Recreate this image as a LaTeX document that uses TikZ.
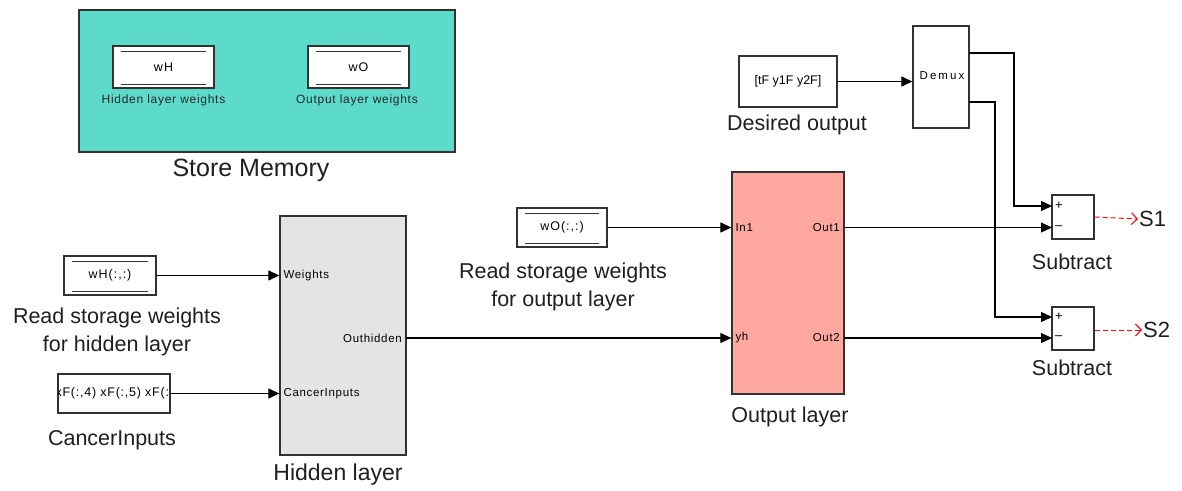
\documentclass[tikz,border=0pt]{standalone}
\usepackage{fontspec}
\setmainfont{Liberation Sans}
\newfontfamily\portfont[LetterSpace=6]{Liberation Sans}
\newfontfamily\dsrfont[LetterSpace=8]{Liberation Sans}
\newfontfamily\demuxfont[LetterSpace=18]{Liberation Sans}
\newfontfamily\canfont[LetterSpace=6]{Liberation Sans}
\usetikzlibrary{arrows.meta}
\definecolor{storeteal}{RGB}{92,219,203}
\definecolor{hidgray}{RGB}{228,228,228}
\definecolor{outsalmon}{RGB}{255,168,160}
\definecolor{bordergray}{RGB}{50,50,50}
\tikzset{
  blk/.style={draw=bordergray, line width=1.3pt, fill=white, inner sep=0pt},
  dsr/.style={blk, font=\dsrfont\fontsize{12.5}{14}\selectfont, path picture={
      \draw[line width=1pt,bordergray] ([xshift=8pt,yshift=-5pt]path picture bounding box.north west) -- ([xshift=-8pt,yshift=-5pt]path picture bounding box.north east);
      \draw[line width=1pt,bordergray] ([xshift=8pt,yshift=4pt]path picture bounding box.south west) -- ([xshift=-8pt,yshift=4pt]path picture bounding box.south east);}},
  big/.style={font=\fontsize{21.5}{28}\selectfont, align=center, inner sep=0pt, text=black!88},
  small/.style={font=\portfont\fontsize{12}{14}\selectfont, inner sep=0pt, text=black!85},
  port/.style={font=\portfont\fontsize{11.5}{13}\selectfont, inner sep=0pt},
  arr/.style={line width=1.1pt, -{Triangle[length=11pt,width=10pt]}},
  redarr/.style={red, line width=1pt, dash pattern=on 5pt off 3pt, -{Straight Barb[length=6pt,width=12pt]}}
}
\begin{document}
\begin{tikzpicture}[x=1pt,y=-1pt]
\useasboundingbox (0,0) rectangle (1182,490);
% Store memory
\node[blk, fill=storeteal, minimum width=376pt, minimum height=142pt] (store) at (267,81) {};
\node[dsr, minimum width=101pt, minimum height=42pt] (wH) at (163.5,67) {wH};
\node[dsr, minimum width=101pt, minimum height=42pt] (wO) at (358.5,67) {wO};
\node[small] (wHl) at (163.5,100) {Hidden layer weights};
\node[small] (wOl) at (357,100) {Output layer weights};
\node[big, font=\fontsize{25}{30}\selectfont] (storel) at (251,170) {Store Memory};
% Hidden side
\node[dsr, minimum width=92pt, minimum height=39pt] (wHr) at (110,275.5) {wH(:,:)};
\node[big] (wHrl) at (117,332) {Read storage weights\\for hidden layer};
\node[blk, minimum width=112pt, minimum height=39pt] (can) at (114,393.5) {};
\begin{scope}
\clip (can.south west) rectangle (can.north east);
\node[inner sep=0pt, anchor=west, font=\canfont\fontsize{12.5}{14}\selectfont] (cantext) at ([xshift=-2pt]can.west) {xF(:,4) xF(:,5) xF(:,6)};
\end{scope}
\draw[draw=bordergray, line width=1.3pt] (can.south west) rectangle (can.north east);
\node[big] (canl) at (112,440) {CancerInputs};
\node[blk, fill=hidgray, minimum width=126pt, minimum height=239pt] (hid) at (343,335.5) {};
\node[port, anchor=west] (pW) at ([xshift=4pt]hid.west |- wHr) {Weights};
\node[port, anchor=west] (pC) at ([xshift=4pt]hid.west |- can) {CancerInputs};
\coordinate (ho) at (406,338);
\node[port, anchor=east] (pO) at ([xshift=-4pt]ho) {Outhidden};
\node[big, font=\fontsize{23}{28}\selectfont] (hidl) at (338,475) {Hidden layer};
% Output side
\node[dsr, minimum width=90pt, minimum height=39pt] (wOr) at (562,227.5) {wO(:,:)};
\node[big] (wOrl) at (563,286.5) {Read storage weights\\for output layer};
\node[blk, fill=outsalmon, minimum width=112pt, minimum height=222pt] (out) at (788,283) {};
\coordinate (o1) at (844,227.5);
\coordinate (o2) at (844,338);
\node[port, anchor=west] (pI1) at ([xshift=4pt]out.west |- o1) {In1};
\node[port, anchor=west] (pyh) at ([xshift=4pt]out.west |- o2) {yh};
\node[port, anchor=east] (pO1) at ([xshift=-4pt]o1) {Out1};
\node[port, anchor=east] (pO2) at ([xshift=-4pt]o2) {Out2};
\node[big] (outl) at (790,417) {Output layer};
% Desired / demux
\node[blk, minimum width=98pt, minimum height=51pt, font=\fontsize{12.5}{14}\selectfont] (des) at (788,81.5) {[tF y1F y2F]};
\node[big] (desl) at (797,125) {Desired output};
\node[blk, minimum width=56pt, minimum height=102pt] (demux) at (941,77) {};
\node[inner sep=0pt, font=\demuxfont\fontsize{11.5}{13}\selectfont] (demuxt) at (942,76) {Demux};
\coordinate (d1) at (969,53);
\coordinate (d2) at (969,102);
% Subtract
\node[blk, minimum width=42pt, minimum height=44pt] (sub1) at (1073,217) {};
\node[blk, minimum width=42pt, minimum height=43pt] (sub2) at (1073,328.5) {};
\coordinate (s1p) at (1052,206);
\coordinate (s1m) at (1052,227.5);
\coordinate (s2p) at (1052,317);
\coordinate (s2m) at (1052,338);
\node[port, anchor=west, font=\fontsize{13}{14}\selectfont] (s1pt) at ([xshift=3pt]s1p) {+};
\node[port, anchor=west, font=\fontsize{13}{14}\selectfont] (s1mt) at ([xshift=3pt]s1m) {–};
\node[port, anchor=west, font=\fontsize{13}{14}\selectfont] (s2pt) at ([xshift=3pt]s2p) {+};
\node[port, anchor=west, font=\fontsize{13}{14}\selectfont] (s2mt) at ([xshift=3pt]s2m) {–};
\node[big] (sub1l) at (1072,262) {Subtract};
\node[big] (sub2l) at (1072,368) {Subtract};
\node[big, anchor=west, font=\fontsize{22}{26}\selectfont, inner sep=1pt] (S1) at (1138,219) {S1};
\node[big, anchor=west, font=\fontsize{22}{26}\selectfont, inner sep=1pt] (S2) at (1142,330) {S2};
% connectors
\draw[arr] (wHr.east) -- (wHr.east -| hid.west);
\draw[arr] (can.east) -- (can.east -| hid.west);
\draw[arr] (ho) -- (ho -| out.west);
\draw[arr] (wOr.east) -- (wOr.east -| out.west);
\draw[arr] (o1) -- (s1m);
\draw[arr] (o2) -- (s2m);
\draw[arr] (des.east) -- (des.east -| demux.west);
\draw[arr] (d1) -- ++(45,0) |- (s1p);
\draw[arr] (d2) -- ++(26,0) |- (s2p);
\draw[redarr] (sub1.east) -- (S1.west);
\draw[redarr] (sub2.east |- S2.west) -- (S2.west);
\end{tikzpicture}
\end{document}
